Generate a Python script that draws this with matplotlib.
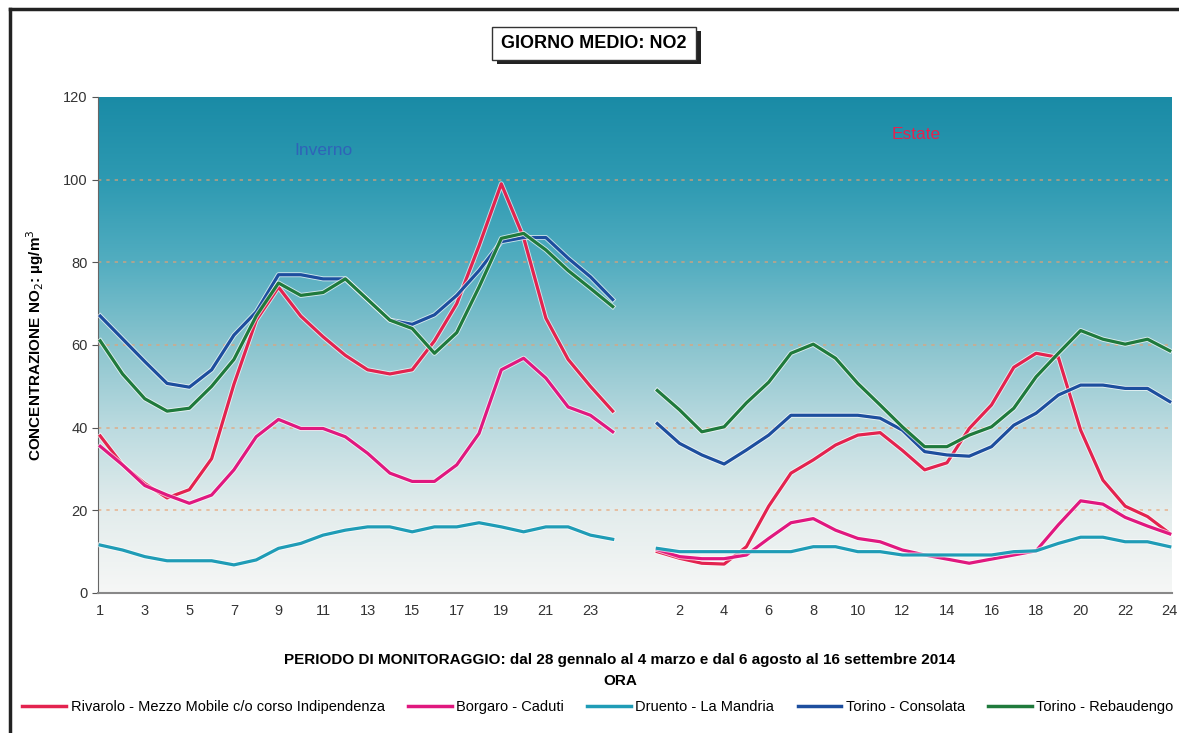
import numpy as np
import matplotlib
matplotlib.use("Agg")
import matplotlib.pyplot as plt
from matplotlib.colors import LinearSegmentedColormap
from matplotlib.patches import Rectangle
import matplotlib.patheffects as pe

plt.rcParams['font.family'] = ['Liberation Sans', 'DejaVu Sans']

# hourly means (ug/m3), winter then summer campaign
stations = ["Rivarolo - Mezzo Mobile c/o corso Indipendenza", "Borgaro - Caduti",
            "Druento - La Mandria", "Torino - Consolata", "Torino - Rebaudengo"]
colors = ["#e3234f", "#e0187f", "#1f9cb6", "#1d4e9e", "#1f7a3c"]

rivarolo_inv = [38, 31, 26.5, 23, 25, 32.5, 50.5, 66, 74, 67, 62, 57.5,
                54, 53, 54, 61, 70, 84, 99, 86, 66.5, 56.5, 50, 44]
rivarolo_est = [10, 8.4, 7.2, 7, 11.2, 21, 29, 32.2, 35.8, 38.2, 38.8, 34.5,
                29.8, 31.5, 39.8, 45.5, 54.6, 58, 57, 39.4, 27.3, 21, 18.5, 14.4]
borgaro_inv = [35.5, 31, 26, 23.7, 21.7, 23.7, 29.8, 37.8, 42, 39.8, 39.8, 37.8,
               33.8, 29, 27, 27, 31, 38.6, 54, 56.8, 52, 45, 43, 39]
borgaro_est = [10.5, 8.8, 8.3, 8.3, 9.2, 13.2, 17, 18, 15.2, 13.2, 12.4, 10.4,
               9.2, 8.2, 7.2, 8.2, 9.2, 10.2, 16.5, 22.3, 21.5, 18.3, 16.2, 14.3]
druento_inv = [11.6, 10.4, 8.8, 7.8, 7.8, 7.8, 6.8, 8, 10.8, 12, 14, 15.2,
               16, 16, 14.8, 16, 16, 17, 16, 14.8, 16, 16, 14, 13]
druento_est = [10.8, 10, 10, 10, 10, 10, 10, 11.2, 11.2, 10, 10, 9.2,
               9.2, 9.2, 9.2, 9.2, 10, 10.2, 12, 13.5, 13.5, 12.4, 12.4, 11.2]
consolata_inv = [67, 61.5, 56, 50.7, 49.8, 54, 62.4, 68, 77, 77, 76, 76,
                 71, 66, 65, 67.3, 72, 78, 85, 86, 86, 81, 76.5, 71]
consolata_est = [41, 36.2, 33.4, 31.2, 34.6, 38.2, 43, 43, 43, 43, 42.3, 39.4,
                 34.2, 33.4, 33.1, 35.4, 40.6, 43.5, 47.9, 50.3, 50.3, 49.5, 49.5, 46.3]
rebaudengo_inv = [61, 53, 47, 44, 44.7, 50, 56.5, 67, 75, 72, 72.7, 76,
                  71, 66, 64, 58, 63, 74, 85.8, 87, 83, 78, 73.7, 69.3]
rebaudengo_est = [49, 44.3, 39, 40.2, 46, 51, 58, 60.2, 56.8, 50.7, 45.5, 40.2,
                  35.4, 35.4, 38.2, 40.2, 44.7, 52.3, 58, 63.5, 61.4, 60.2, 61.4, 58.6]

winter = [rivarolo_inv, borgaro_inv, druento_inv, consolata_inv, rebaudengo_inv]
summer = [rivarolo_est, borgaro_est, druento_est, consolata_est, rebaudengo_est]

hours = np.arange(1, 25)

fig = plt.figure(figsize=(11.79, 7.33), dpi=100)
fig.patch.set_facecolor("white")
ax = fig.add_axes([98 / 1179, 140 / 733, (1172 - 98) / 1179, (593 - 97) / 733])

# gradient background, teal on top fading to white
cmap = LinearSegmentedColormap.from_list(
    "bg", [(0, "#f6f7f6"), (0.17, "#e2ecec"), (0.33, "#bcdbe0"),
           (0.5, "#8ac4ce"), (0.67, "#52adc0"), (0.83, "#2e9ab2"), (1.0, "#1a8ba6")])
grad = np.linspace(0, 1, 256).reshape(-1, 1)
ax.imshow(grad, aspect="auto", cmap=cmap, origin="lower",
          extent=[-0.1, 48.1, 0, 120], zorder=0)

for y in [20, 40, 60, 80, 100]:
    ax.axhline(y, color="#e9a070", lw=1.2, ls=(0, (2, 3)), alpha=0.7, zorder=1)

x_all = np.arange(49)
for name, c, w, s in zip(stations, colors, winter, summer):
    vals = np.concatenate([w, [np.nan], s])
    ax.plot(x_all, vals, color=c, lw=2.3, label=name, zorder=3,
            path_effects=[pe.Stroke(linewidth=3.6, foreground="white", alpha=0.7), pe.Normal()])

ax.set_xlim(-0.1, 48.1)
ax.set_ylim(0, 120)
ax.set_yticks(range(0, 121, 20))
xt = list(range(0, 24, 2)) + list(range(26, 49, 2))
xl = [str(h) for h in hours[0::2]] + [str(h) for h in hours[1::2]]
ax.set_xticks(xt)
ax.set_xticklabels(xl)
ax.tick_params(axis="both", labelsize=10.5, length=4, color="#555555", labelcolor="#333333")
ax.tick_params(axis="x", length=0, pad=8)
for sp in ["top", "right"]:
    ax.spines[sp].set_visible(False)
ax.spines["left"].set_color("#666666")
ax.spines["bottom"].set_color("#888888")
ax.spines["bottom"].set_linewidth(1.5)

ax.text(10.0, 107, "Inverno", color="#2f63b8", fontsize=12.5, ha="center", va="center")
ax.text(36.6, 111, "Estate", color="#e3234f", fontsize=12.5, ha="center", va="center")

# title box with shadow
fig.patches.append(Rectangle((497 / 1179, 1 - 64 / 733), 204 / 1179, 33 / 733,
                             transform=fig.transFigure, facecolor="#222222",
                             edgecolor="none", zorder=1))
fig.patches.append(Rectangle((492 / 1179, 1 - 60 / 733), 204 / 1179, 33 / 733,
                             transform=fig.transFigure, facecolor="white",
                             edgecolor="#333333", lw=1, zorder=2))
fig.text(594 / 1179, 1 - 44 / 733, "GIORNO MEDIO: NO2", ha="center", va="center",
         fontsize=13, fontweight="bold", zorder=3)

fig.text(35 / 1179, 1 - 345 / 733, "CONCENTRAZIONE NO$_2$: µg/m$^3$", rotation=90,
         ha="center", va="center", fontsize=11, fontweight="bold")
fig.text(620 / 1179, 1 - 660 / 733,
         "PERIODO DI MONITORAGGIO: dal 28 gennalo al 4 marzo e dal 6 agosto al 16 settembre 2014",
         ha="center", va="center", fontsize=11, fontweight="bold")
fig.text(620 / 1179, 1 - 681 / 733, "ORA", ha="center", va="center",
         fontsize=11, fontweight="bold")

leg = fig.legend(loc="center", bbox_to_anchor=(598 / 1179, 1 - 707 / 733), ncol=5,
                 frameon=False, fontsize=10.5, handlelength=3.0, handletextpad=0.3,
                 columnspacing=1.6)
for line in leg.get_lines():
    line.set_linewidth(2.5)
    line.set_path_effects([])

# outer frame (top and left edges)
fig.add_artist(plt.Line2D([10 / 1179, 1], [1 - 9 / 733, 1 - 9 / 733], color="#222222", lw=2.5))
fig.add_artist(plt.Line2D([10 / 1179, 10 / 1179], [0, 1 - 9 / 733], color="#222222", lw=2.5))

fig.savefig("out.png", dpi=100)
